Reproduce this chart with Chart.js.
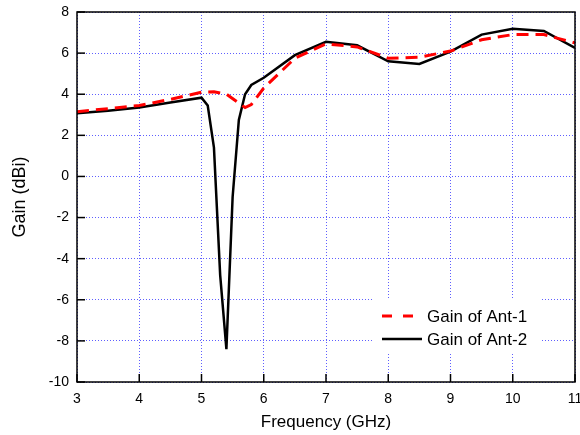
<!DOCTYPE html>
<html>
<head>
<meta charset="utf-8">
<script src="https://cdn.jsdelivr.net/npm/chart.js@4"></script>
<style>
html,body{margin:0;padding:0;background:#fff;}
#wrap{width:580px;height:435px;position:relative;}
</style>
</head>
<body>
<div id="wrap"><canvas id="c" width="580" height="435"></canvas></div>
<script>
// ---- data ----
const freqAnt1 = [3, 3.5, 4, 4.5, 5, 5.2, 5.4, 5.7, 5.8, 6, 6.5, 7, 7.5, 8, 8.5, 9, 9.5, 10, 10.5, 11];
const gainAnt1 = [3.15, 3.3, 3.45, 3.75, 4.1, 4.12, 4.0, 3.35, 3.5, 4.3, 5.75, 6.45, 6.3, 5.75, 5.8, 6.1, 6.65, 6.9, 6.9, 6.5];
const freqAnt2 = [3, 3.5, 4, 4.5, 5, 5.1, 5.2, 5.3, 5.4, 5.5, 5.6, 5.7, 5.8, 6, 6.5, 7, 7.5, 8, 8.5, 9, 9.5, 10, 10.5, 11];
const gainAnt2 = [3.08, 3.2, 3.35, 3.6, 3.83, 3.45, 1.4, -4.8, -8.4, -1.0, 2.75, 4.0, 4.45, 4.8, 5.9, 6.55, 6.38, 5.6, 5.47, 6.07, 6.9, 7.18, 7.08, 6.25];
const seriesNames = ['Gain of Ant-1', 'Gain of Ant-2'];
const xTitle = 'Frequency (GHz)';
const yTitle = 'Gain (dBi)';

const FONT = 'Liberation Sans, Arial, sans-serif';

const toXY = (xs, ys) => xs.map((x, i) => ({x: x, y: ys[i]}));

const framePlugin = {
  id: 'frameAndTicks',
  afterDatasetsDraw(chart) {
    const {ctx, chartArea: a, scales} = chart;
    ctx.save();
    // legend box
    const lx = 373, ly = 298, lw = 167, lh = 54;
    ctx.fillStyle = '#fff';
    ctx.fillRect(lx, ly, lw, lh);
    const items = [
      {y: 316, color: '#ff0000', dash: [10, 11], w: 3, x2: 415},
      {y: 339, color: '#000000', dash: [], w: 2.5, x2: 422}
    ];
    items.forEach((it, i) => {
      ctx.beginPath();
      ctx.setLineDash(it.dash);
      ctx.strokeStyle = it.color;
      ctx.lineWidth = it.w;
      ctx.moveTo(382, it.y);
      ctx.lineTo(it.x2, it.y);
      ctx.stroke();
      ctx.setLineDash([]);
      ctx.fillStyle = '#000';
      ctx.font = '17px ' + FONT;
      ctx.textAlign = 'left';
      ctx.textBaseline = 'middle';
      ctx.fillText(seriesNames[i], 427, it.y + 1);
    });
    // frame
    ctx.strokeStyle = '#000';
    ctx.lineWidth = 1.5;
    ctx.strokeRect(a.left, a.top, a.right - a.left, a.bottom - a.top);
    // inward tick marks
    scales.x.ticks.forEach(t => {
      const px = scales.x.getPixelForValue(t.value);
      ctx.beginPath();
      ctx.moveTo(px, a.bottom);
      ctx.lineTo(px, a.bottom - 8);
      ctx.stroke();
    });
    scales.y.ticks.forEach(t => {
      const py = scales.y.getPixelForValue(t.value);
      ctx.beginPath();
      ctx.moveTo(a.left, py);
      ctx.lineTo(a.left + 8, py);
      ctx.stroke();
    });
    ctx.restore();
  }
};

new Chart(document.getElementById('c'), {
  type: 'line',
  data: {
    datasets: [
      {
        label: seriesNames[0],
        data: toXY(freqAnt1, gainAnt1),
        borderColor: '#ff0000',
        backgroundColor: '#ff0000',
        borderWidth: 3,
        borderDash: [12, 7],
        pointRadius: 0,
        tension: 0,
        fill: false
      },
      {
        label: seriesNames[1],
        data: toXY(freqAnt2, gainAnt2),
        borderColor: '#000000',
        backgroundColor: '#000000',
        borderWidth: 2.5,
        pointRadius: 0,
        tension: 0,
        fill: false
      }
    ]
  },
  options: {
    responsive: false,
    animation: false,
    devicePixelRatio: 1,
    layout: {padding: {top: 12, right: 5, left: 0, bottom: 0}},
    plugins: {legend: {display: false}, tooltip: {enabled: false}},
    scales: {
      x: {
        type: 'linear',
        min: 3, max: 11,
        afterFit: s => { s.height = 53; s.paddingLeft = 0; s.paddingRight = 0; },
        ticks: {stepSize: 1, color: '#000', padding: 9, maxRotation: 0,
                font: {family: FONT, size: 14}},
        grid: {color: '#5f5fff', lineWidth: 1, drawTicks: false},
        border: {display: false, dash: [1, 2]},
        title: {display: true, text: xTitle, color: '#000',
                font: {family: FONT, size: 17}, padding: {top: 0, bottom: 2}}
      },
      y: {
        min: -10, max: 8,
        afterFit: s => { s.width = 77; s.paddingTop = 0; s.paddingBottom = 0; },
        ticks: {stepSize: 2, color: '#000', padding: 8,
                font: {family: FONT, size: 14}},
        grid: {color: '#5f5fff', lineWidth: 1, drawTicks: false},
        border: {display: false, dash: [1, 2]},
        title: {display: true, text: yTitle, color: '#000',
                font: {family: FONT, size: 18}, padding: {top: 9, bottom: 0}}
      }
    }
  },
  plugins: [framePlugin]
});
</script>
</body>
</html>
